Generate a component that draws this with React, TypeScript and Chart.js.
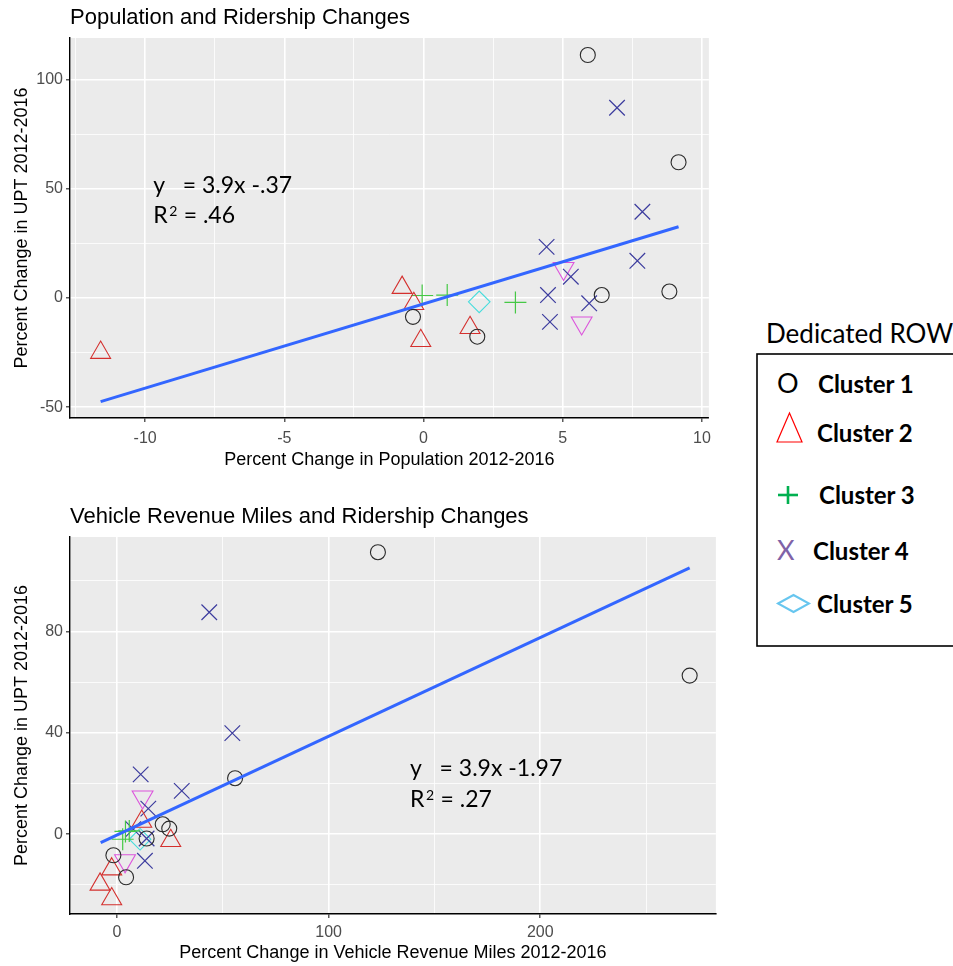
import React, { useEffect, useRef } from 'react';
import { Chart, registerables } from 'chart.js';

Chart.register(...registerables);

// ---------- Panel 1: Population vs ridership ----------
const popTitle = 'Population and Ridership Changes';
const popXTitle = 'Percent Change in Population 2012-2016';
const uptTitle = 'Percent Change in UPT 2012-2016';

const popC1X = [5.9, 9.16, 8.83, 6.4, -0.38, 1.93];
const popC1Y = [111.5, 62.3, 3.0, 1.4, -8.6, -17.7];
const popC2X = [-11.6, -0.77, -0.35, -0.1, 1.67];
const popC2Y = [-25.0, 4.8, -2.6, -19.6, -13.6];
const popC3X = [-0.05, 0.85, 3.3];
const popC3Y = [1.2, 1.4, -2.0];
const popC4X = [6.95, 7.86, 7.68, 4.42, 5.29, 4.47, 4.54, 5.95];
const popC4Y = [87.3, 39.6, 17.1, 23.5, 9.8, 1.4, -10.9, -2.4];
const popC5X = [2.0];
const popC5Y = [-1.7];
const popC6X = [5.03, 5.68];
const popC6Y = [13.6, -11.4];
const popLineX = [-11.6, 9.16];
const popLineY = [-47.5, 32.7];

const popXRange = [-12.7, 10.25];
const popYRange = [-55, 119.3];
const popXGrid = [-12.5, -10, -7.5, -5, -2.5, 0, 2.5, 5, 7.5, 10];
const popXMajor = [-10, -5, 0, 5, 10];
const popXLabels = ['-10', '-5', '0', '5', '10'];
const popYGrid = [-50, -25, 0, 25, 50, 75, 100];
const popYMajor = [-50, 0, 50, 100];
const popYLabels = ['-50', '0', '50', '100'];

const popEqAt = [-9.71, 48.2];
const popEqLines = ['y   = 3.9x -.37', 'R^2 = .46'];

// ---------- Panel 2: Vehicle revenue miles vs ridership ----------
const vrmTitle = 'Vehicle Revenue Miles and Ridership Changes';
const vrmXTitle = 'Percent Change in Vehicle Revenue Miles 2012-2016';

const vrmC1X = [123.3, 270.6, 55.8, 21.6, 24.7, 14.0, -1.7, 4.3];
const vrmC1Y = [111.3, 62.6, 22.1, 3.9, 2.2, -1.7, -8.3, -17.0];
const vrmC2X = [11.7, 25.4, -2.5, -8.0, -2.5];
const vrmC2Y = [5.0, -2.6, -13.8, -19.8, -25.6];
const vrmC3X = [5.8, 2.7, 4.0];
const vrmC3Y = [1.3, -2.0, 1.1];
const vrmC4X = [43.6, 54.5, 11.2, 30.6, 14.8, 7.7, 14.0, 13.2];
const vrmC4Y = [87.6, 39.9, 23.6, 17.1, 10.1, 2.0, -1.7, -10.5];
const vrmC5X = [10.9];
const vrmC5Y = [-2.0];
const vrmC6X = [12.1, 3.8];
const vrmC6Y = [14.7, -10.5];
const vrmLineX = [-7.7, 270.6];
const vrmLineY = [-3.3, 105.1];

const vrmXRange = [-22.2, 283];
const vrmYRange = [-31.5, 117.3];
const vrmXGrid = [0, 50, 100, 150, 200, 250];
const vrmXMajor = [0, 100, 200];
const vrmXLabels = ['0', '100', '200'];
const vrmYGrid = [-20, 0, 20, 40, 60, 80, 100];
const vrmYMajor = [0, 40, 80];
const vrmYLabels = ['0', '40', '80'];

const vrmEqAt = [138.5, 22.8];
const vrmEqLines = ['y   = 3.9x -1.97', 'R^2 = .27'];

// ---------- Legend ----------
const legendTitle = 'Dedicated ROW';
const legendLabels = ['Cluster 1', 'Cluster 2', 'Cluster 3', 'Cluster 4', 'Cluster 5'];

// ---------- styling ----------
const C1 = '#2a2a2a';
const C2 = '#d4302e';
const C3 = '#45c845';
const C4 = '#3c3c9e';
const C5 = '#45dcdc';
const C6 = '#dc55dc';
const LINE = '#3366FF';
const AX_FONT = 'Liberation Sans';

const pts = (xs: number[], ys: number[]) => xs.map((x, i) => ({ x, y: ys[i] }));

function markerSet(xs: number[], ys: number[], style: string, color: string, radius: number, rotation = 0, width = 1.1) {
  return {
    type: 'scatter',
    data: pts(xs, ys),
    showLine: false,
    pointStyle: style,
    pointRadius: radius,
    pointHoverRadius: radius,
    pointRotation: rotation,
    pointBorderColor: color,
    borderColor: color,
    pointBackgroundColor: 'rgba(0,0,0,0)',
    backgroundColor: 'rgba(0,0,0,0)',
    pointBorderWidth: width,
    borderWidth: width,
  };
}

function labelFor(v: number, majors: number[], labels: string[]) {
  const i = majors.indexOf(v);
  return i >= 0 ? labels[i] : '';
}

function axis(opts: any) {
  const { range, grid, majors, labels, title, isX, fitSize, tickPad, titlePad } = opts;
  return {
    type: 'linear',
    min: range[0],
    max: range[1],
    afterBuildTicks: (s: any) => {
      s.ticks = grid.map((v: number) => ({ value: v }));
    },
    afterFit: (s: any) => {
      if (isX) s.height = fitSize;
      else s.width = fitSize;
    },
    ticks: {
      autoSkip: false,
      maxRotation: 0,
      minRotation: 0,
      padding: tickPad,
      color: '#4D4D4D',
      font: { family: AX_FONT, size: 16 },
      callback: (v: number) => labelFor(v, majors, labels),
    },
    grid: {
      color: '#FFFFFF',
      lineWidth: (c: any) => (c.tick && majors.includes(c.tick.value) ? 1.6 : 0.8),
      tickColor: (c: any) => (c.tick && majors.includes(c.tick.value) ? '#333333' : 'rgba(0,0,0,0)'),
      tickWidth: 1.2,
      tickLength: 4,
      drawTicks: true,
      drawOnChartArea: true,
    },
    border: { display: true, color: '#000000', width: 1.4 },
    title: {
      display: true,
      text: title,
      color: '#000000',
      font: { family: AX_FONT, size: 18 },
      padding: titlePad,
    },
  };
}

const panelBg = {
  id: 'panelBg',
  beforeDraw(chart: any) {
    const { ctx, chartArea: a } = chart;
    ctx.save();
    ctx.fillStyle = '#EBEBEB';
    ctx.fillRect(a.left, a.top, a.right - a.left, a.bottom - a.top);
    ctx.restore();
  },
};

// draws each line; a "^" marks the next character as a superscript
function eqPlugin(at: number[], lines: string[], gap: number) {
  return {
    id: 'eqText',
    afterDraw(chart: any) {
      const { ctx } = chart;
      const x0 = chart.scales.x.getPixelForValue(at[0]);
      const y0 = chart.scales.y.getPixelForValue(at[1]);
      ctx.save();
      ctx.fillStyle = '#000000';
      ctx.textAlign = 'left';
      ctx.textBaseline = 'alphabetic';
      lines.forEach((t, i) => {
        const y = y0 + i * gap;
        let x = x0;
        const parts = t.split('^');
        parts.forEach((part, j) => {
          let rest = part;
          if (j > 0 && part.length > 0) {
            const sup = part[0];
            ctx.font = '14px Lato';
            ctx.fillText(sup, x + 1.5, y - 7);
            x += ctx.measureText(sup).width + 2;
            rest = part.slice(1);
          }
          ctx.font = '23px Lato';
          ctx.fillText(rest, x, y);
          x += ctx.measureText(rest).width;
        });
      });
      ctx.restore();
    },
  };
}

function buildConfig(p: any) {
  return {
    type: 'scatter',
    data: {
      datasets: [
        {
          type: 'scatter',
          data: pts(p.lineX, p.lineY),
          showLine: true,
          borderColor: LINE,
          backgroundColor: LINE,
          borderWidth: 3,
          pointRadius: 0,
          pointHoverRadius: 0,
          fill: false,
        },
        markerSet(p.c1x, p.c1y, 'circle', C1, 7.5),
        markerSet(p.c2x, p.c2y, 'triangle', C2, 11.5),
        markerSet(p.c3x, p.c3y, 'cross', C3, 11, 0, 1.2),
        markerSet(p.c4x, p.c4y, 'crossRot', C4, 11, 0, 1.2),
        markerSet(p.c5x, p.c5y, 'rectRot', C5, 10.8),
        markerSet(p.c6x, p.c6y, 'triangle', C6, 12, 180),
      ],
    },
    options: {
      responsive: false,
      animation: false,
      events: [],
      layout: { padding: { left: 6, right: 6, top: 0, bottom: 0 } },
      plugins: {
        legend: { display: false },
        tooltip: { enabled: false },
        title: {
          display: true,
          text: p.title,
          align: 'start',
          fullSize: false,
          color: '#000000',
          font: { family: AX_FONT, size: 22, weight: 'normal' },
          padding: { top: 5, bottom: 6.6 },
        },
      },
      scales: {
        x: axis({
          range: p.xRange, grid: p.xGrid, majors: p.xMajor, labels: p.xLabels, title: p.xTitle,
          isX: true, fitSize: p.xFit, tickPad: p.xTickPad, titlePad: p.xTitlePad,
        }),
        y: axis({
          range: p.yRange, grid: p.yGrid, majors: p.yMajor, labels: p.yLabels, title: uptTitle,
          isX: false, fitSize: 64, tickPad: 3, titlePad: { top: 5, bottom: 4 },
        }),
      },
    },
    plugins: [panelBg, eqPlugin(p.eqAt, p.eqLines, p.eqGap)],
  };
}

function ScatterPanel(props: any) {
  const ref = useRef<HTMLCanvasElement>(null);
  useEffect(() => {
    if (!ref.current) return;
    const chart = new Chart(ref.current, buildConfig(props) as any);
    return () => chart.destroy();
  }, []);
  return (
    <canvas
      ref={ref}
      width={props.w}
      height={props.h}
      style={{ position: 'absolute', left: props.left, top: props.top, width: props.w, height: props.h }}
    />
  );
}

function Legend() {
  const bold = { fontFamily: 'Lato', fontWeight: 700, fontSize: 24 } as any;
  const glyph = { fontFamily: 'Lato', fontSize: 27 } as any;
  return (
    <svg
      width={213}
      height={360}
      viewBox="740 300 213 360"
      style={{ position: 'absolute', left: 740, top: 300 }}
    >
      <text x={766} y={343} style={{ fontFamily: 'Lato', fontSize: 26 }} fill="#000">{legendTitle}</text>
      <rect x={757} y={354} width={220} height={292} fill="none" stroke="#000" strokeWidth={1.6} />
      <text x={777} y={393} style={glyph} fill="#000">O</text>
      <text x={818} y={393} style={bold} fill="#000">{legendLabels[0]}</text>
      <polygon points="789.5,413 777,442 802,442" fill="none" stroke="#ff0000" strokeWidth={1.2} />
      <text x={817} y={442} style={bold} fill="#000">{legendLabels[1]}</text>
      <line x1={778} y1={495} x2={798} y2={495} stroke="#00b050" strokeWidth={2.6} />
      <line x1={788} y1={486} x2={788} y2={504} stroke="#00b050" strokeWidth={2.6} />
      <text x={819} y={504} style={bold} fill="#000">{legendLabels[2]}</text>
      <text x={777} y={560} style={glyph} fill="#7f63a8">X</text>
      <text x={813} y={560} style={bold} fill="#000">{legendLabels[3]}</text>
      <polygon points="778,603.5 793.5,595 809,603.5 793.5,612" fill="none" stroke="#67c6ef" strokeWidth={2} />
      <text x={817} y={613} style={bold} fill="#000">{legendLabels[4]}</text>
    </svg>
  );
}

export default function App() {
  return (
    <div style={{ position: 'fixed', left: 0, top: 0, width: 953, height: 966, background: '#ffffff', overflow: 'hidden' }}>
      <ScatterPanel
        left={0} top={0} w={722} h={475}
        title={popTitle} xTitle={popXTitle}
        c1x={popC1X} c1y={popC1Y} c2x={popC2X} c2y={popC2Y} c3x={popC3X} c3y={popC3Y}
        c4x={popC4X} c4y={popC4Y} c5x={popC5X} c5y={popC5Y} c6x={popC6X} c6y={popC6Y}
        lineX={popLineX} lineY={popLineY}
        xRange={popXRange} yRange={popYRange}
        xGrid={popXGrid} xMajor={popXMajor} xLabels={popXLabels}
        yGrid={popYGrid} yMajor={popYMajor} yLabels={popYLabels}
        xFit={57} xTickPad={7} xTitlePad={{ top: 1, bottom: 4 }}
        eqAt={popEqAt} eqLines={popEqLines} eqGap={30}
      />
      <ScatterPanel
        left={0} top={499} w={729} h={467}
        title={vrmTitle} xTitle={vrmXTitle}
        c1x={vrmC1X} c1y={vrmC1Y} c2x={vrmC2X} c2y={vrmC2Y} c3x={vrmC3X} c3y={vrmC3Y}
        c4x={vrmC4X} c4y={vrmC4Y} c5x={vrmC5X} c5y={vrmC5Y} c6x={vrmC6X} c6y={vrmC6Y}
        lineX={vrmLineX} lineY={vrmLineY}
        xRange={vrmXRange} yRange={vrmYRange}
        xGrid={vrmXGrid} xMajor={vrmXMajor} xLabels={vrmXLabels}
        yGrid={vrmYGrid} yMajor={vrmYMajor} yLabels={vrmYLabels}
        xFit={52} xTickPad={5} xTitlePad={{ top: 0, bottom: 2 }}
        eqAt={vrmEqAt} eqLines={vrmEqLines} eqGap={31}
      />
      <Legend />
    </div>
  );
}
